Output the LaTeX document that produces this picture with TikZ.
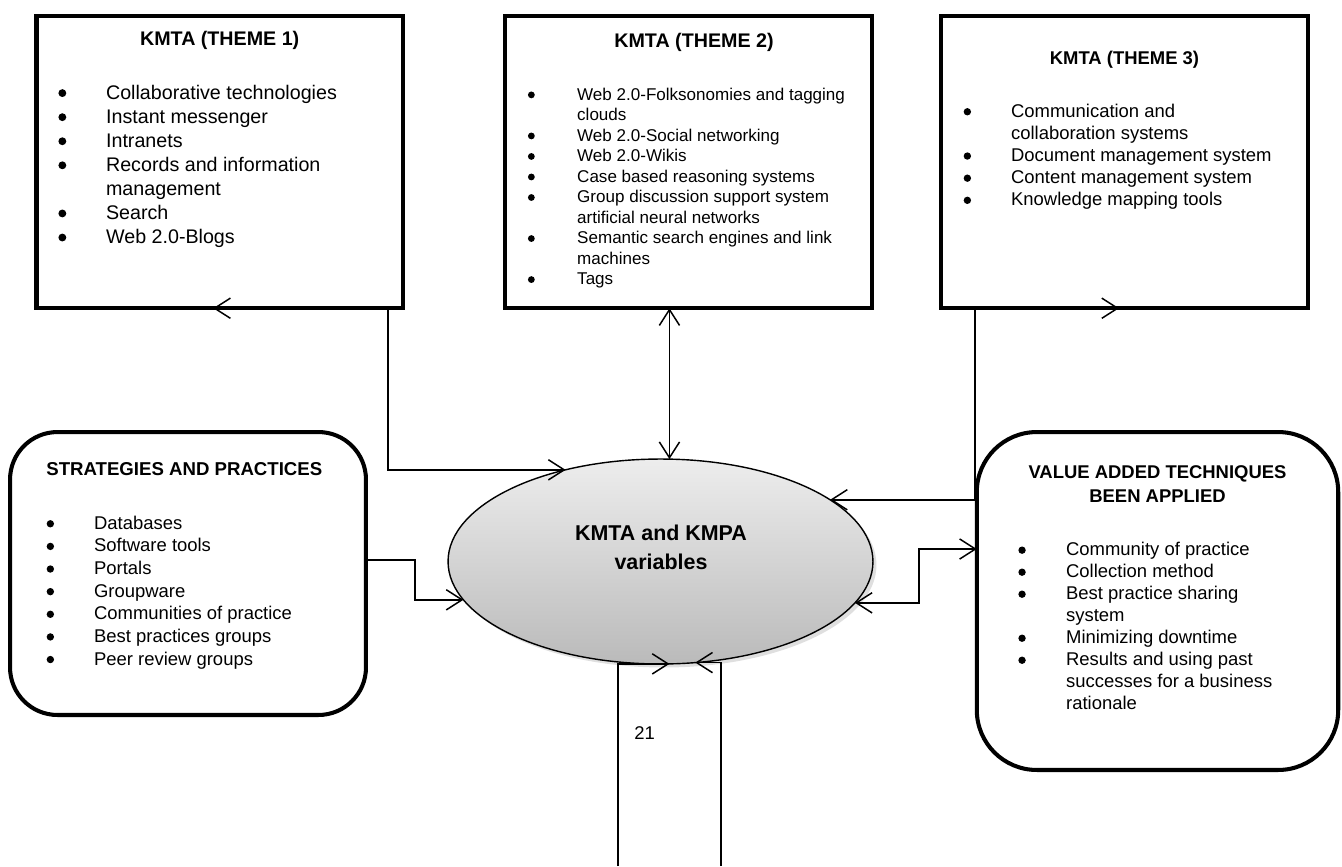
\documentclass[tikz,border=0pt]{standalone}
\usepackage{fontspec}
\setmainfont{Liberation Sans}
\usetikzlibrary{arrows.meta,shapes.geometric,shadows}
\newlength\lm
\newcommand\bigbul{\makebox[0pt]{\tikz[baseline=-0.3em]\fill (0,0) circle (0.2em);}}
\newcommand\bl[1]{\par\hangindent=\lm\hangafter=1\noindent\hbox to\lm{\bigbul\hfil}#1}
\newcommand\blist[4]{\parbox[t]{9cm}{\fontsize{#1}{#2}\selectfont\raggedright\setlength\lm{#3}#4}}
\newcommand\ttlfont[1]{\fontsize{#1}{14}\selectfont\bfseries}
\begin{document}
\begin{tikzpicture}[x=0.02cm,y=-0.02cm,
  tbox/.style={draw, line width=2.5pt, outer sep=0pt, inner sep=0pt, minimum width=7.33cm, minimum height=5.85cm},
  rbox/.style={draw, line width=2.3pt, outer sep=0pt, inner sep=0pt},
  ttl/.style={inner sep=0pt, anchor=base},
  lst/.style={inner sep=0pt, anchor=base west},
  conn/.style={line width=0.85pt},
  >={Straight Barb[length=9pt,width=11.5pt]}]
\useasboundingbox (0,0) rectangle (1342,866);

% boxes
\node[tbox] (t1) at (219.7,162) {};
\node[tbox] (t2) at (688.5,162) {};
\node[tbox] (t3) at (1124.5,162) {};
\node[rbox, rounded corners=0.95cm, minimum width=7.12cm, minimum height=5.66cm] (s) at (188,573.5) {};
\node[rbox, rounded corners=1.2cm, minimum width=7.23cm, minimum height=6.76cm] (v) at (1157.5,601) {};
\node[ellipse, draw, line width=0.8pt, top color=black!7, bottom color=black!27,
  drop shadow={opacity=0.25, shadow xshift=2pt, shadow yshift=-2pt},
  minimum width=8.5cm, minimum height=4.1cm, inner sep=0pt, outer sep=0pt] (k) at (660.5,561.5) {};

% titles
\node[ttl, font=\ttlfont{11.2}] (t1h) at (219.7,45.7) {KMTA (THEME 1)};
\node[ttl, font=\ttlfont{11.2}] (t2h) at (694,47.7) {KMTA (THEME 2)};
\node[ttl, font=\ttlfont{10.5}] (t3h) at (1124.5,64) {KMTA (THEME 3)};
\node[inner sep=0pt, anchor=base west, font=\ttlfont{10.6}] (sh) at (46,475.7) {STRATEGIES AND PRACTICES};
\node[ttl] (vh) at (1157.5,478) {\parbox[t]{6.5cm}{\centering\fontsize{10.5}{14.2}\selectfont\bfseries VALUE ADDED TECHNIQUES\\BEEN APPLIED}};
\node[ttl] (kt) at (661,540.7) {\parbox[t]{5cm}{\centering\fontsize{12.2}{16.6}\selectfont\bfseries KMTA and KMPA\\variables}};

% lists
\node[lst] (t1l) at (62,99) {\blist{11.2}{13.7}{24.9pt}{%
\bl{Collaborative technologies}
\bl{Instant messenger}
\bl{Intranets}
\bl{Records and information\newline management}
\bl{Search}
\bl{Web 2.0-Blogs}}};

\node[lst] (t2l) at (531,100) {\blist{9.7}{11.68}{26.1pt}{%
\bl{Web 2.0-Folksonomies and tagging\newline clouds}
\bl{Web 2.0-Social networking}
\bl{Web 2.0-Wikis}
\bl{Case based reasoning systems}
\bl{Group discussion support system\newline artificial neural networks}
\bl{Semantic search engines and link\newline machines}
\bl{Tags}}};

\node[lst] (t3l) at (967,117.3) {\blist{10.5}{12.6}{24.9pt}{%
\bl{Communication and\newline collaboration systems}
\bl{Document management system}
\bl{Content management system}
\bl{Knowledge mapping tools}}};

\node[lst] (sl) at (50,529.3) {\blist{10.5}{12.88}{24.9pt}{%
\bl{Databases}
\bl{Software tools}
\bl{Portals}
\bl{Groupware}
\bl{Communities of practice}
\bl{Best practices groups}
\bl{Peer review groups}}};

\node[lst] (vl) at (1021.7,555.7) {\blist{10.5}{12.53}{25.1pt}{%
\bl{Community of practice}
\bl{Collection method}
\bl{Best practice sharing\newline system}
\bl{Minimizing downtime}
\bl{Results and using past\newline successes for a business\newline rationale}}};

\node[inner sep=0pt, anchor=base west, font=\fontsize{10.5}{12}\selectfont] (pg) at (634,739.3) {21};

% connectors
\coordinate (b1) at (618,866);
\coordinate (b2) at (721,866);
\draw[conn,<->] ([xshift=-0.13cm]t1.south) -| (388,0 |- k.136.5) -- (k.136.5);
\draw[conn,<->] (k.85 |- t2.south) -- (k.85);
\draw[conn,<->] ([xshift=-0.11cm]t3.south) -| (975,0 |- k.20.8) -- (k.20.8);
\draw[conn,->] (s.east |- 0,560) -| (415,0 |- k.191.9) -- (k.191.9);
\draw[conn,<->] (k.-12) -| (919,549) -- (v.west |- 0,549);
\draw[conn,->] (b1) |- (k.275);
\draw[conn,->] (b2) |- (k.289);
\end{tikzpicture}
\end{document}
